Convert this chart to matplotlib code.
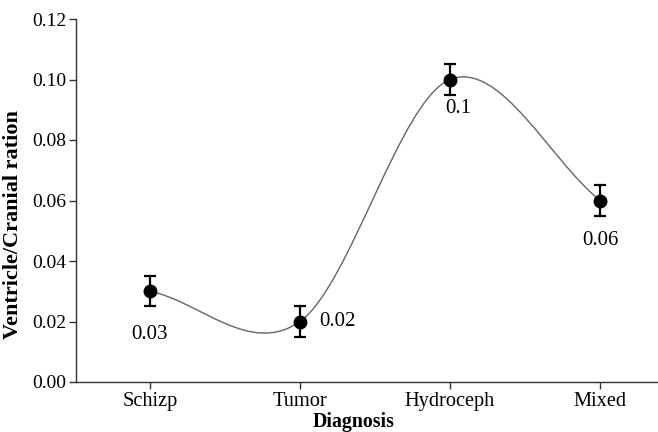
import matplotlib
matplotlib.use("Agg")
import matplotlib.pyplot as plt
from matplotlib.path import Path
from matplotlib.patches import PathPatch

categories = ["Schizp", "Tumor", "Hydroceph", "Mixed"]
values = [0.03, 0.02, 0.10, 0.06]
errors = [0.005, 0.005, 0.005, 0.005]
labels = ["0.03", "0.02", "0.1", "0.06"]
yticks = [0.00, 0.02, 0.04, 0.06, 0.08, 0.10, 0.12]

plt.rcParams['font.family'] = ['Liberation Serif', 'DejaVu Serif']

fig = plt.figure(figsize=(6.58, 4.32), dpi=100)
ax = fig.add_axes([76/658, 1-382/432, 1-76/658, (382-19)/432])

xs = list(range(len(categories)))
pts = list(zip(xs, values))

# Smooth curve: Catmull-Rom converted to cubic Bezier segments
verts = [pts[0]]
codes = [Path.MOVETO]
n = len(pts)
def tangent(i):
    if i == 0:
        return (pts[1][0]-pts[0][0], pts[1][1]-pts[0][1])
    if i == n-1:
        return (pts[-1][0]-pts[-2][0], pts[-1][1]-pts[-2][1])
    return ((pts[i+1][0]-pts[i-1][0])/2, (pts[i+1][1]-pts[i-1][1])/2)
for i in range(n-1):
    t0 = tangent(i); t1 = tangent(i+1)
    p0 = pts[i]; p1 = pts[i+1]
    c1 = (p0[0]+t0[0]/3, p0[1]+t0[1]/3)
    c2 = (p1[0]-t1[0]/3, p1[1]-t1[1]/3)
    verts += [c1, c2, p1]
    codes += [Path.CURVE4]*3
ax.add_patch(PathPatch(Path(verts, codes), facecolor='none', edgecolor='#666666', lw=1.0, zorder=2))

ax.errorbar(xs, values, yerr=errors, fmt='o', color='black', ms=9,
            elinewidth=1.6, capsize=4, capthick=1.6, zorder=3)

offsets = [(0, -31), (27, 0), (6, -21), (0, -29)]
for x, v, lab, off in zip(xs, values, labels, offsets):
    ax.annotate(lab, (x, v), xytext=off, textcoords='offset points',
                ha='center', va='center', fontsize=15)

ax.set_xlim(-0.493, 3.387)
ax.set_ylim(0, 0.12)
ax.set_xticks(xs)
ax.set_xticklabels(categories, fontsize=14.7)
ax.set_yticks(yticks)
ax.set_yticklabels([f"{t:.2f}" for t in yticks], fontsize=14)
for s in ['top', 'right']:
    ax.spines[s].set_visible(False)
for s in ['left', 'bottom']:
    ax.spines[s].set_color('#333333')
    ax.spines[s].set_linewidth(1.0)
ax.tick_params(direction='out', length=5, width=1, color='#333333', pad=2)

ax.set_xlabel("Diagnosis", fontsize=14.3, fontweight='bold')
ax.xaxis.set_label_coords((353.5-76)/582, -30/363)
ax.set_ylabel("Ventricle/Cranial ration", fontsize=16, fontweight='bold')
ax.yaxis.set_label_coords(-53/582, (382-225)/363)

fig.savefig("out.png", dpi=100)
